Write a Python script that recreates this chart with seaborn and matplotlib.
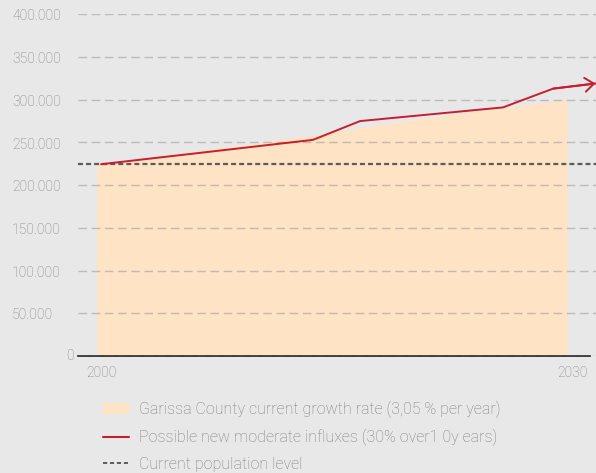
import numpy as np
import matplotlib
matplotlib.use("Agg")
import matplotlib.pyplot as plt
import seaborn as sns
from matplotlib.patches import Patch
from matplotlib.lines import Line2D

# data
area_years = [2000, 2005, 2010, 2015, 2020, 2025, 2030]
area_values = [224500, 237000, 249000, 262000, 276000, 289000, 300000]

influx_years = [2000, 2013.5, 2016.5, 2025.6, 2028.8, 2031.5]
influx_values = [224500, 253000, 275000, 291000, 313000, 319000]

current_level = 224500

ytick_values = [0, 50000, 100000, 150000, 200000, 250000, 300000, 350000, 400000]
ytick_labels = ["0", "50.000", "100.000", "150.000", "200.000", "250.000",
                "300.000", "350.000", "400.000"]
xtick_years = list(range(2000, 2031, 3))
xtick_labels = ["2000"] + [""] * 9 + ["2030"]

legend_labels = ["Garissa County current growth rate (3,05 % per year)",
                 "Possible new moderate influxes (30% over1 0y ears)",
                 "Current population level"]

bg = "#e8e8e8"
peach = "#fee3c5"
red = "#c41e30"
grey_txt = "#7e7e7e"

sns.set_style("white")
plt.rcParams["font.family"] = ["Roboto", "DejaVu Sans"]
plt.rcParams["lines.scale_dashes"] = False

fig = plt.figure(figsize=(5.96, 4.73), dpi=100, facecolor=bg)
ax = fig.add_axes([78 / 596, (473 - 356) / 473, (596 - 78) / 596, (356 - 14.3) / 473])
ax.set_facecolor(bg)

ax.fill_between(np.array(area_years) - 0.3, area_values, color=peach, lw=0, zorder=1)

ax.set_yticks(ytick_values)
ax.set_yticklabels([])
ax.grid(axis="y", color="#909090", alpha=0.5, linestyle=(0, (6.2, 3.3)), linewidth=1)
ax.set_axisbelow(False)

ax.axhline(current_level, color="#5c5c5c", lw=1.6, linestyle=(0, (3.6, 2.2)), zorder=2.6)

sns.lineplot(x=influx_years, y=influx_values, ax=ax, color=red, lw=1.4, zorder=3,
             clip_on=False)
ax.annotate("", xy=(influx_years[-1], influx_values[-1]),
            xytext=(influx_years[-2], influx_values[-2]),
            arrowprops=dict(arrowstyle="->,head_length=0.65,head_width=0.5",
                            color=red, lw=1.4, shrinkA=0, shrinkB=0),
            annotation_clip=False, zorder=3)

ax.set_xlim(2000 - 23 / 15.7, 2000 + 495 / 15.7)
ax.set_ylim(0, 400000)

for s in ["top", "right", "left"]:
    ax.spines[s].set_visible(False)
ax.spines["bottom"].set_color("#222222")
ax.spines["bottom"].set_linewidth(1.2)
ax.spines["bottom"].set_bounds(2000 - 23 / 15.7, 2000 + 489 / 15.7)

ax.set_xticks(xtick_years)
ax.set_xticklabels(xtick_labels)
ax.tick_params(axis="x", direction="in", length=3, width=1.6, color="#222222",
               labelsize=10, labelcolor=grey_txt, pad=7)
ax.tick_params(axis="y", length=0)
for lab in ax.get_xticklabels():
    lab.set_fontweight("light")

for v, t in zip(ytick_values, ytick_labels):
    if v == 0:
        ax.text(-4 / 518, v, t, transform=ax.get_yaxis_transform(), ha="right",
                va="center", fontsize=10, color=grey_txt, fontweight="light")
    else:
        ax.text((12 - 78) / 518, v - 2500, t, transform=ax.get_yaxis_transform(),
                ha="left", va="center", fontsize=10, color=grey_txt, fontweight="light")

handles = [Patch(facecolor=peach, edgecolor="none"),
           Line2D([], [], color=red, lw=1.5),
           Line2D([], [], color="#444444", lw=1.2, linestyle=(0, (3, 2)))]
leg = fig.legend(handles, legend_labels, loc="upper left",
                 bbox_to_anchor=(103 / 596, 1 - 401 / 473), frameon=False,
                 borderpad=0, borderaxespad=0, fontsize=11.5, handlelength=1.6,
                 handletextpad=0.68, labelspacing=0.68)
for t in leg.get_texts():
    t.set_color(grey_txt)
    t.set_fontweight("light")

fig.savefig("out.png", dpi=100, facecolor=bg)
